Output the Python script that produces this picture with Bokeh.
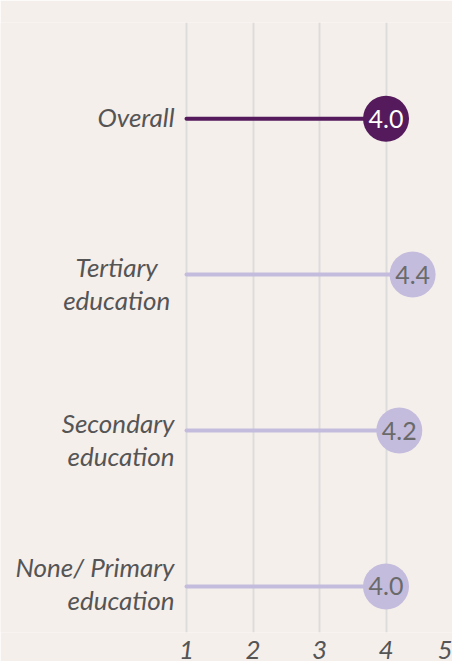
from bokeh.plotting import figure
from bokeh.models import ColumnDataSource, FixedTicker
from bokeh.core.properties import value
from bokeh.embed import file_html
from bokeh.resources import INLINE

categories = ["Overall", "Tertiary\neducation", "Secondary\neducation", "None/ Primary\neducation"]
scores = [4.0, 4.4, 4.2, 4.0]
labels = ["4.0", "4.4", "4.2", "4.0"]
row_pos = [3, 2, 1, 0]
x_ticks = [1, 2, 3, 4, 5]

BG = "#f5efec"
DARK = "#541a5b"
LIGHT = "#c4bcdc"

colors = [DARK, LIGHT, LIGHT, LIGHT]
txt_colors = ["#ffffff", "#6a6a6a", "#6a6a6a", "#6a6a6a"]
label_align = ["right", "center", "right", "right"]
label_x = [0.82, -0.05, 0.82, 0.82]
label_dy = [-2, 9, 9, -3]

src = ColumnDataSource(dict(
    cat=categories, score=scores, lab=labels, y=row_pos,
    start=[x_ticks[0]] * len(scores), color=colors, tcol=txt_colors,
    lx=label_x, la=label_align, dy=label_dy,
))

p = figure(width=452, height=661, output_backend="svg", toolbar_location=None,
           x_range=(-1.797, 5.0), y_range=(-0.2955, 3.617),
           background_fill_color=BG, border_fill_color=BG,
           min_border_left=0, min_border_right=0, min_border_top=22, min_border_bottom=21)
p.outline_line_color = None

p.segment(x0="start", y0="y", x1="score", y1="y", source=src, line_color="color",
          line_width=4, line_cap="round")
p.scatter(x="score", y="y", source=src, size=46, fill_color="color", line_color=None)
p.text(x="score", y="y", text="lab", source=src, text_color="tcol",
       text_align="center", text_baseline="middle", text_font=value("Lato"),
       text_font_size="25px", text_font_style="normal")
p.text(x="lx", y="y", y_offset="dy", text="cat", source=src, text_color="#555555",
       text_align="la", text_baseline="middle", text_font=value("Lato"),
       text_font_size="26px", text_font_style="italic", text_line_height=1.03)

p.xaxis.ticker = FixedTicker(ticks=x_ticks)
p.xaxis.axis_line_color = None
p.xaxis.major_tick_line_color = None
p.xaxis.minor_tick_line_color = None
p.xaxis.major_label_text_font = "Lato"
p.xaxis.major_label_text_font_style = "italic"
p.xaxis.major_label_text_font_size = "26px"
p.xaxis.major_label_text_color = "#555555"
p.xaxis.major_label_standoff = 2
p.yaxis.visible = False
p.ygrid.grid_line_color = None
p.xgrid.grid_line_color = "#dcdcdc"
p.xgrid.grid_line_width = 2

open("out.html", "w").write(file_html(p, INLINE))
